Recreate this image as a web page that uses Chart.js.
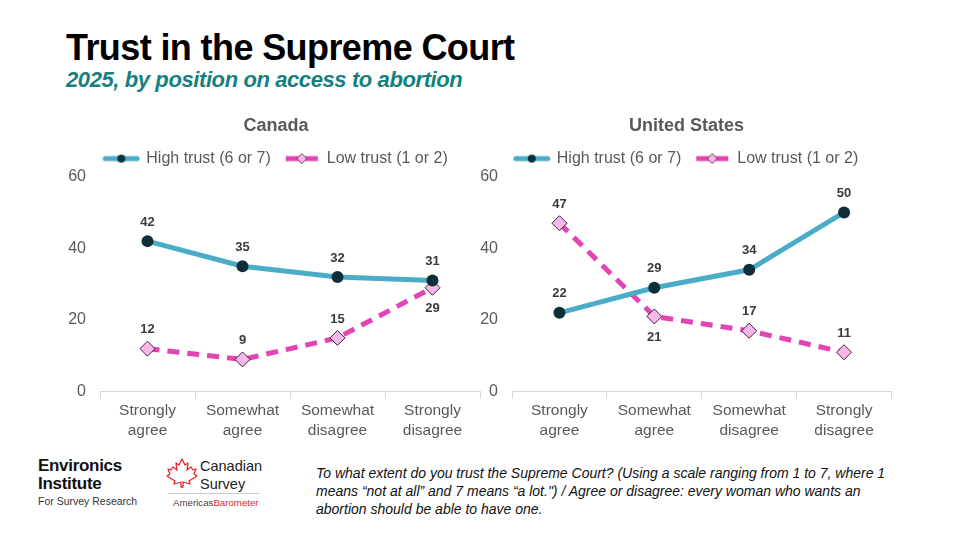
<!DOCTYPE html>
<html>
<head>
<meta charset="utf-8">
<script src="https://cdn.jsdelivr.net/npm/chart.js@4.4.0/dist/chart.umd.min.js"></script>
<style>
  body { margin:0; width:960px; height:540px; background:#fff; position:relative; overflow:hidden;
         font-family:'Liberation Sans', Arial, sans-serif; }
  #title { position:absolute; left:66px; top:27px; font-size:36px; font-weight:bold; color:#000; letter-spacing:-0.6px; }
  #subtitle { position:absolute; left:66px; top:67px; font-size:22px; font-weight:bold; font-style:italic; color:#17807e; letter-spacing:-0.4px; }
  canvas { position:absolute; }
  #cCanada { left:58px; top:102px; }
  #cUS { left:473px; top:102px; }
  #note { position:absolute; left:316px; top:464px; font-size:14px; font-style:italic; line-height:18px; color:#111; }
  .env { position:absolute; left:38px; top:457px; color:#111; }
  .env b { display:block; font-size:17px; line-height:18px; letter-spacing:-0.3px; }
  .env span { display:block; font-size:10.5px; margin-top:2px; color:#333; }
  .cs { position:absolute; left:166px; top:456px; width:96px; }
  .cs .txt { position:absolute; left:34px; top:1px; font-size:14.5px; line-height:18px; color:#222; }
  .cs .rule { position:absolute; left:2px; top:37px; width:92px; border-top:1px solid #ccc; }
  .cs .ab { position:absolute; left:7px; top:41px; font-size:9.7px; color:#444; white-space:nowrap; }
  .cs .ab em { font-style:normal; color:#e0282e; }
</style>
</head>
<body>
<div id="title">Trust in the Supreme Court</div>
<div id="subtitle">2025, by position on access to abortion</div>

<canvas id="cCanada" width="436" height="341"></canvas>
<canvas id="cUS" width="427" height="341"></canvas>

<div class="env"><b>Environics</b><b>Institute</b><span>For Survey Research</span></div>
<div class="cs">
  <svg width="32" height="30" viewBox="0 0 32 30" style="position:absolute;left:0;top:2px">
    <path d="M16 1 L19 7 L22 5 L21 12 L25 9 L27 12 L30 11 L28 16 L31 18 L23 23 L24 26 L17 24 L17 29 L15 29 L15 24 L8 26 L9 23 L1 18 L4 16 L2 11 L5 12 L7 9 L11 12 L10 5 L13 7 Z"
          fill="none" stroke="#e0282e" stroke-width="1.3" stroke-linejoin="round"/>
  </svg>
  <div class="txt">Canadian<br>Survey</div>
  <div class="rule"></div>
  <div class="ab">Americas<em>Barometer</em></div>
</div>

<div id="note">To what extent do you trust the Supreme Court? (Using a scale ranging from 1 to 7, where 1<br>means “not at all” and 7 means “a lot.") / Agree or disagree: every woman who wants an<br>abortion should be able to have one.</div>

<script>
/* ── Data ── */
const categories  = [['Strongly', 'agree'], ['Somewhat', 'agree'], ['Somewhat', 'disagree'], ['Strongly', 'disagree']];
const seriesNames = ['High trust (6 or 7)', 'Low trust (1 or 2)'];
const canadaHigh  = [42, 35, 32, 31];
const canadaLow   = [12, 9, 15, 29];
const usHigh      = [22, 29, 34, 50];
const usLow       = [47, 21, 17, 11];
const yTicks      = [0, 20, 40, 60];

/* ── Colours ── */
const C = {
  teal:    '#4aacc6',
  dot:     '#0e2f3a',
  magenta: '#e244b4',
  pink:    '#f6b8e6',
  pinkEdge:'#4a1c42',
  text:    '#595959',
  label:   '#3a3a3a',
  axis:    '#d9d9d9',
};
const FONT = "'Liberation Sans', Arial, sans-serif";

/* ── Legend symbol: short line with marker ── */
function legendSymbol(color, dashed, marker) {
  const c = document.createElement('canvas');
  c.width = 38; c.height = 14;
  const x = c.getContext('2d');
  x.strokeStyle = color; x.lineWidth = 5; x.lineCap = dashed ? 'butt' : 'round';
  x.beginPath(); x.moveTo(3, 7); x.lineTo(35, 7); x.stroke();
  if (marker === 'circle') {
    x.fillStyle = C.dot;
    x.beginPath(); x.arc(19, 7, 4, 0, Math.PI * 2); x.fill();
  } else {
    x.fillStyle = C.pink; x.strokeStyle = C.pinkEdge; x.lineWidth = 0.8;
    x.beginPath(); x.moveTo(19, 2); x.lineTo(24, 7); x.lineTo(19, 12); x.lineTo(14, 7); x.closePath();
    x.fill(); x.stroke();
  }
  return c;
}

/* ── Value labels above / below points ── */
const valueLabels = {
  id: 'valueLabels',
  afterDatasetsDraw(chart) {
    const ctx = chart.ctx;
    ctx.save();
    ctx.font = 'bold 13px ' + FONT;
    ctx.fillStyle = C.label;
    ctx.textAlign = 'center';
    ctx.textBaseline = 'middle';
    chart.data.datasets.forEach((ds, i) => {
      chart.getDatasetMeta(i).data.forEach((pt, j) => {
        const below = ds.labelBelow && ds.labelBelow[j];
        ctx.fillText(ds.data[j], pt.x, pt.y + (below ? 21 : -19));
      });
    });
    ctx.restore();
  }
};

// yWidth / rWidth: left axis width and an empty right spacer, so the
// title and legend sit centred over the whole panel, not the plot area
function makeChart(id, title, high, low, lowBelow, yWidth, rWidth) {
  const symbols = [legendSymbol(C.teal, false, 'circle'), legendSymbol(C.magenta, true, 'diamond')];
  return new Chart(document.getElementById(id), {
    type: 'line',
    data: {
      labels: categories,
      datasets: [
        {
          label: seriesNames[0], data: high,
          borderColor: C.teal, borderWidth: 5, borderCapStyle: 'round',
          pointStyle: 'circle', pointRadius: 6,
          pointBackgroundColor: C.dot, pointBorderColor: C.dot, pointBorderWidth: 0,
          tension: 0, fill: false,
        },
        {
          label: seriesNames[1], data: low, labelBelow: lowBelow,
          borderColor: C.magenta, borderWidth: 5, borderDash: [12, 8], borderCapStyle: 'butt',
          pointStyle: 'rectRot', pointRadius: 7.5,
          pointBackgroundColor: C.pink, pointBorderColor: C.pinkEdge, pointBorderWidth: 1,
          tension: 0, fill: false,
        }
      ]
    },
    options: {
      responsive: false,
      animation: false,
      layout: { padding: 0 },
      plugins: {
        title: {
          display: true, text: title, color: C.text,
          font: { family: FONT, size: 18, weight: 'bold' },
          padding: { top: 13, bottom: 0 },
        },
        legend: {
          display: true,
          labels: {
            usePointStyle: true, pointStyleWidth: 34, padding: 14,
            color: C.text, font: { family: FONT, size: 16 },
            generateLabels: (chart) => chart.data.datasets.map((ds, i) => ({
              text: ds.label, pointStyle: symbols[i], datasetIndex: i,
              fillStyle: 'transparent', strokeStyle: 'transparent', lineWidth: 0,
              fontColor: C.text,
            })),
          },
        },
        tooltip: { enabled: false },
      },
      scales: {
        x: {
          type: 'category', offset: true,
          grid: { offset: true, drawOnChartArea: false, drawTicks: true, tickLength: 7, color: C.axis },
          border: { display: true, color: C.axis },
          ticks: { color: C.text, font: { family: FONT, size: 15.5, lineHeight: 1.3 }, padding: 2, maxRotation: 0, autoSkip: false },
        },
        y: {
          min: 0, max: 60,
          afterBuildTicks: (s) => { s.ticks = yTicks.map(v => ({ value: v })); },
          afterFit: (s) => { s.width = yWidth; },
          grid: { display: false, drawTicks: false },
          border: { display: false },
          ticks: { color: C.text, font: { family: FONT, size: 16 }, padding: 14 },
        },
        spacer: {
          position: 'right', min: 0, max: 60,
          afterFit: (s) => { s.width = rWidth; },
          grid: { display: false, drawTicks: false },
          border: { display: false },
          ticks: { display: false },
        },
      },
    },
    plugins: [valueLabels],
  });
}

makeChart('cCanada', 'Canada', canadaHigh, canadaLow, [false, false, false, true], 42, 14);
makeChart('cUS', 'United States', usHigh, usLow, [false, true, false, false], 39, 8);
</script>
</body>
</html>
